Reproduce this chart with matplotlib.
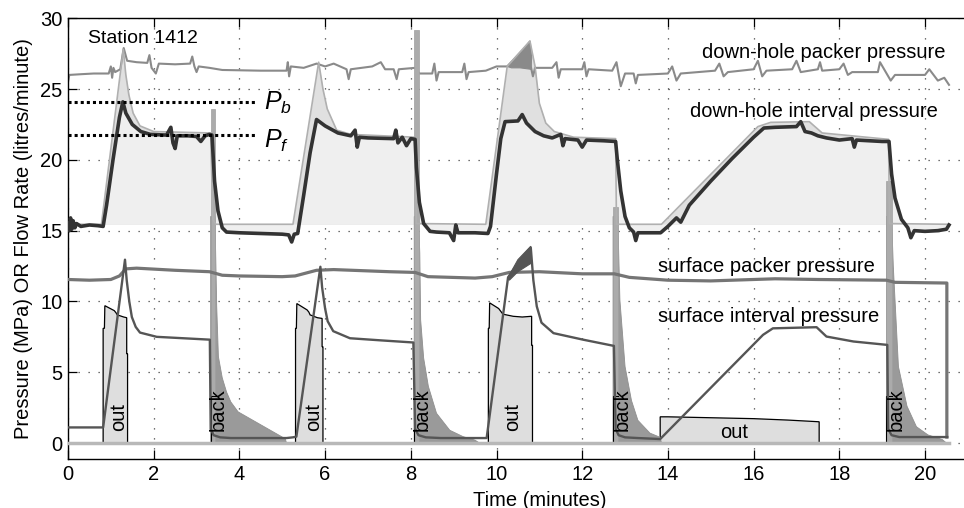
import numpy as np
import matplotlib
matplotlib.use("Agg")
import matplotlib.pyplot as plt
from matplotlib.patches import Polygon

plt.rcParams['font.family'] = ['Liberation Sans', 'DejaVu Sans']
plt.rcParams['mathtext.fontset'] = 'custom'
plt.rcParams['mathtext.it'] = 'Liberation Sans:italic'
plt.rcParams['mathtext.rm'] = 'Liberation Sans'

# ---------------- data ----------------
x_ticks = [0, 2, 4, 6, 8, 10, 12, 14, 16, 18, 20]
y_ticks = [0, 5, 10, 15, 20, 25, 30]

# static (pre-test) down-hole interval level, MPa
static_level = 15.45
# breakdown and frac (re-opening) pressures, MPa
p_breakdown = 24.1
p_frac = 21.75

# down-hole interval pressure (time min, MPa)
dh_interval = [
    (0.00, 15.5), (0.03, 15.0), (0.06, 15.9), (0.09, 15.1), (0.12, 15.7), (0.16, 15.2),
    (0.20, 15.5), (0.30, 15.3), (0.50, 15.4), (0.70, 15.35), (0.82, 15.3), (0.90, 16.8),
    (1.05, 20.0), (1.20, 23.0), (1.28, 24.1), (1.35, 23.3), (1.50, 22.5), (1.70, 22.0),
    (1.92, 21.8), (2.30, 21.75), (2.40, 22.3), (2.45, 21.2), (2.50, 20.8), (2.55, 21.7),
    (2.80, 21.7), (3.00, 21.65), (3.10, 21.3), (3.20, 21.7), (3.30, 21.8), (3.36, 21.75),
    (3.42, 18.5), (3.50, 16.4), (3.60, 15.2), (3.70, 14.9), (4.00, 14.85), (4.50, 14.8),
    (5.00, 14.75), (5.15, 14.7), (5.22, 14.2), (5.28, 14.75), (5.36, 14.8), (5.50, 17.5),
    (5.65, 20.5), (5.80, 22.85), (6.00, 22.4), (6.30, 21.9), (6.60, 21.7), (6.70, 22.1),
    (6.75, 20.9), (6.80, 21.6), (7.00, 21.55), (7.60, 21.5), (7.65, 22.1), (7.70, 21.2),
    (7.80, 21.6), (7.90, 21.0), (8.00, 21.5), (8.10, 21.45), (8.13, 19.5), (8.20, 17.0),
    (8.30, 15.5), (8.45, 14.95), (8.60, 14.9), (8.90, 14.85), (9.00, 14.3), (9.05, 15.4),
    (9.10, 14.85), (9.50, 14.85), (9.80, 14.8), (9.86, 15.3), (10.00, 19.0), (10.10, 21.5),
    (10.20, 22.7), (10.50, 22.75), (10.60, 23.2), (10.70, 22.6), (10.90, 22.0), (11.10, 21.7),
    (11.30, 21.55), (11.50, 21.8), (11.55, 21.0), (11.60, 21.5), (11.90, 21.4), (12.00, 20.9),
    (12.10, 21.4), (12.50, 21.35), (12.78, 21.3), (12.82, 20.0), (12.90, 17.8), (13.00, 16.0),
    (13.10, 15.2), (13.20, 14.9), (13.25, 14.3), (13.30, 14.85), (13.50, 14.85), (13.83, 14.85),
    (14.00, 15.3), (14.20, 15.9), (14.30, 15.6), (14.50, 16.8), (15.00, 18.5), (15.50, 20.1),
    (16.00, 21.6), (16.24, 22.25), (16.50, 22.3), (17.00, 22.35), (17.10, 22.7), (17.20, 22.0),
    (17.35, 21.9), (17.50, 21.7), (17.70, 21.55), (18.00, 21.4), (18.30, 21.5), (18.35, 20.9),
    (18.40, 21.4), (19.00, 21.3), (19.16, 21.3), (19.22, 19.0), (19.30, 17.3), (19.45, 15.8),
    (19.60, 15.2), (19.67, 14.5), (19.75, 15.0), (20.00, 14.95), (20.30, 15.0), (20.50, 15.1),
    (20.56, 15.4),
]

# second down-hole interval trace (light grey)
dh_interval_b = [
    (0.00, 15.45), (0.78, 15.45), (1.29, 27.8), (1.35, 26.0), (1.42, 24.6), (1.52, 23.3),
    (1.68, 22.4), (2.00, 22.0), (3.33, 21.9), (3.38, 15.8), (3.45, 15.45), (5.25, 15.45),
    (5.85, 26.9), (5.95, 25.0), (6.05, 23.6), (6.27, 22.1), (6.60, 21.8), (8.10, 21.6),
    (8.13, 15.5), (9.75, 15.45), (10.25, 26.6), (10.78, 28.4), (10.90, 26.6), (11.00, 24.0),
    (11.15, 22.6), (11.35, 22.0), (11.80, 21.6), (12.78, 21.5), (12.80, 15.45), (13.85, 15.45),
    (16.10, 22.35), (16.40, 22.65), (17.30, 22.7), (17.60, 21.9), (19.15, 21.45), (19.17, 15.5),
    (20.56, 15.45),
]

# down-hole packer pressure
dh_packer = [
    (0.00, 25.5), (0.03, 26.0), (0.30, 26.05), (0.60, 26.1), (0.95, 26.1), (1.00, 26.6),
    (1.03, 25.8), (1.06, 26.5), (1.10, 26.2), (1.22, 26.4), (1.30, 27.9), (1.38, 27.0),
    (1.60, 26.9), (1.85, 26.85), (1.90, 27.4), (1.95, 26.5), (2.05, 26.1), (2.12, 26.8),
    (2.50, 26.75), (2.85, 26.8), (2.90, 27.3), (2.95, 26.6), (3.00, 26.2), (3.05, 26.6),
    (3.30, 26.5), (3.60, 26.35), (4.50, 26.3), (5.10, 26.3), (5.13, 26.9), (5.16, 25.9),
    (5.20, 26.6), (5.50, 26.5), (5.80, 26.8), (6.00, 26.6), (6.20, 26.8), (6.35, 26.6),
    (6.50, 26.4), (6.55, 25.7), (6.60, 26.4), (7.10, 26.6), (7.30, 26.9), (7.40, 26.4),
    (7.60, 26.4), (7.67, 25.7), (7.72, 26.4), (8.10, 26.5), (8.20, 26.1), (8.50, 26.1),
    (8.55, 26.8), (8.60, 25.6), (8.65, 26.2), (9.20, 26.2), (9.25, 26.8), (9.30, 25.7),
    (9.35, 26.2), (9.75, 26.3), (10.00, 26.6), (10.25, 26.6), (10.78, 28.3), (10.80, 26.6),
    (10.85, 25.9), (10.90, 26.5), (11.30, 26.5), (11.40, 26.9), (11.45, 25.8), (11.50, 26.4),
    (12.00, 26.4), (12.05, 26.9), (12.10, 25.9), (12.15, 26.4), (12.70, 26.3), (12.80, 26.9),
    (12.90, 25.2), (13.00, 26.1), (13.20, 26.1), (13.25, 25.4), (13.30, 26.0), (14.00, 26.1),
    (14.10, 26.6), (14.20, 25.6), (14.30, 26.1), (15.10, 26.3), (15.20, 26.8), (15.30, 25.9),
    (15.40, 26.2), (16.00, 26.4), (16.10, 27.0), (16.20, 25.9), (16.30, 26.3), (16.90, 26.4),
    (17.00, 27.0), (17.10, 26.2), (17.50, 26.4), (17.55, 26.9), (17.60, 26.3), (18.00, 26.4),
    (18.10, 26.8), (18.20, 26.0), (18.30, 26.2), (18.90, 26.2), (18.95, 26.9), (19.20, 25.6),
    (19.30, 26.0), (20.00, 26.0), (20.10, 26.4), (20.30, 25.6), (20.45, 25.8), (20.56, 25.3),
]
# noisy packer excursion during the third injection
dh_packer_burst = [(10.25, 26.6), (10.50, 27.3), (10.78, 28.4), (10.82, 27.2),
                   (10.80, 26.4), (10.55, 26.5), (10.35, 26.5)]

# surface packer pressure
surf_packer = [
    (0.00, 11.55), (0.50, 11.5), (1.00, 11.55), (1.20, 11.8), (1.35, 12.3), (1.60, 12.35),
    (2.50, 12.2), (3.30, 12.1), (3.60, 11.85), (4.00, 11.8), (5.00, 11.75), (5.30, 11.8),
    (5.80, 12.2), (6.20, 12.25), (7.50, 12.1), (8.10, 12.05), (8.40, 11.75), (9.50, 11.65),
    (9.90, 11.75), (10.30, 12.05), (11.00, 12.1), (12.00, 11.95), (12.75, 11.95), (13.10, 11.7),
    (14.00, 11.5), (15.00, 11.45), (16.50, 11.6), (17.50, 11.55), (19.10, 11.5), (19.30, 11.35),
    (20.51, 11.3), (20.51, 0.42),
]

# surface interval pressure
surf_interval = [
    (0.00, 1.1), (0.82, 1.1), (1.33, 12.95), (1.37, 11.5), (1.43, 10.0), (1.49, 8.9),
    (1.58, 8.2), (1.68, 7.8), (2.07, 7.5), (3.31, 7.3), (3.33, 1.0), (3.40, 0.55),
    (3.55, 0.4), (3.80, 0.35), (5.10, 0.35), (5.25, 0.4), (5.33, 0.45), (5.89, 12.45),
    (5.93, 11.0), (6.00, 9.5), (6.06, 8.6), (6.19, 7.9), (6.58, 7.4), (7.30, 7.25),
    (8.06, 7.1), (8.10, 1.0), (8.18, 0.55), (8.35, 0.4), (8.70, 0.35), (9.77, 0.35),
    (10.27, 11.7), (10.50, 12.7), (10.80, 13.8), (10.86, 11.5), (10.94, 9.65), (11.05, 8.5),
    (11.33, 7.76), (12.02, 7.3), (12.74, 6.86), (12.78, 1.0), (12.85, 0.55), (13.00, 0.4),
    (13.30, 0.35), (13.82, 0.28), (16.22, 7.64), (16.45, 8.1), (17.47, 8.18), (17.70, 7.52),
    (18.33, 7.17), (19.12, 6.93), (19.14, 1.0), (19.22, 0.55), (19.40, 0.42), (20.52, 0.42),
]
# noisy surface interval band during the third injection
surf_interval_burst = [(10.27, 11.7), (10.50, 12.95), (10.80, 13.9), (10.81, 12.7),
                       (10.50, 12.1), (10.30, 11.5)]

# flow rate out of the tool (litres/minute)
flow_out = [
    [(0.82, 0.0), (0.82, 8.1), (0.85, 8.1), (0.86, 9.7), (1.08, 9.35), (1.12, 9.2),
     (1.15, 9.05), (1.30, 8.9), (1.37, 8.85), (1.37, 6.3), (1.39, 6.3), (1.39, 0.0)],
    [(5.31, 0.0), (5.31, 8.1), (5.33, 8.1), (5.34, 9.85), (5.58, 9.4), (5.62, 9.25),
     (5.65, 9.05), (5.82, 8.85), (5.93, 8.8), (5.93, 6.8), (5.95, 6.8), (5.95, 0.0)],
    [(9.81, 0.0), (9.81, 8.1), (9.83, 8.1), (9.84, 9.9), (10.05, 9.5), (10.10, 9.3),
     (10.15, 9.1), (10.39, 8.95), (10.60, 8.9), (10.82, 8.95), (10.82, 6.9), (10.84, 6.9),
     (10.84, 0.0)],
    [(13.82, 0.0), (13.82, 1.85), (14.00, 1.85), (16.00, 1.72), (16.80, 1.62), (17.53, 1.5),
     (17.53, 0.0)],
]
out_label_pos = [(1.17, 1.86, 90), (5.73, 1.86, 90), (10.37, 1.86, 90), (15.55, 0.73, 0)]

# flow back into the tool: initial surge column and decay
back_start = [3.33, 8.08, 12.72, 19.10]
back_width = [0.10, 0.10, 0.11, 0.12]
back_peak = [23.6, 29.2, 16.7, 18.5]
back_decay = [
    [(3.43, 16.0), (3.47, 9.7), (3.51, 6.1), (3.60, 4.6), (3.70, 3.6), (3.80, 2.9),
     (3.97, 2.2), (5.07, 0.3), (5.10, 0.0)],
    [(8.18, 16.0), (8.21, 13.4), (8.23, 8.7), (8.30, 6.0), (8.41, 4.0), (8.60, 2.1),
     (8.91, 0.9), (9.22, 0.45), (9.50, 0.2), (9.60, 0.0)],
    [(12.83, 16.0), (12.88, 10.1), (13.00, 5.4), (13.15, 3.0), (13.30, 1.6), (13.58, 0.7),
     (13.82, 0.4), (13.85, 0.0)],
    [(19.22, 16.0), (19.26, 12.5), (19.38, 5.4), (19.58, 2.6), (19.80, 1.15), (20.07, 0.57),
     (20.40, 0.25), (20.50, 0.0)],
]
back_label_x = [3.51, 8.26, 12.94, 19.32]
back_label_y = 2.34
flow_end = 20.56

# ---------------- figure ----------------
W, H = 964, 508
fig = plt.figure(figsize=(W / 100, H / 100), dpi=100)
ax = fig.add_axes([68 / W, 49 / H, 942.7 / W, 440.7 / H])
ax.set_xlim(0, 22)
ax.set_ylim(-1.13, 30)

def xy(pairs):
    a = np.array(pairs, dtype=float)
    return a[:, 0], a[:, 1]

t_dh, v_dh = xy(dh_interval)
t_dhb, v_dhb = xy(dh_interval_b)
t_pk, v_pk = xy(dh_packer)
t_sp, v_sp = xy(surf_packer)
t_si, v_si = xy(surf_interval)

# grid
ax.set_xticks(x_ticks)
ax.set_yticks(y_ticks)
ax.grid(True, color='#444444', linestyle=(0, (1, 7)), linewidth=0.9)
ax.set_axisbelow(True)

# shaded pressure areas relative to the static level
ax.fill_between(t_dhb, static_level, v_dhb, color='#e0e0e0', linewidth=0, zorder=1)
ax.fill_between(t_dh, static_level, v_dh, color='#efefef', linewidth=0, zorder=1.1)

# flow-out blocks
for poly in flow_out:
    ax.add_patch(Polygon(poly, closed=True, facecolor='#dedede', edgecolor='black',
                         linewidth=0.9, zorder=2))
for (lx, ly, rot) in out_label_pos:
    ax.text(lx, ly, 'out', rotation=rot, ha='center', va='center', fontsize=14.5, zorder=6)

# flow-back decay and surge columns
for x0, dec in zip(back_start, back_decay):
    pts = [(x0, 0.0), (x0, dec[0][1])] + dec
    ax.add_patch(Polygon(pts, closed=True, facecolor='#9a9a9a', edgecolor='#8f8f8f',
                         linewidth=0.6, zorder=2.2))
ax.bar(back_start, back_peak, width=back_width, align='edge', color='#ababab',
       edgecolor='#a0a0a0', linewidth=0.5, zorder=2.4)
for x0 in back_start:
    ax.plot([x0, x0, x0 + 0.12], [0.0, 3.35, 3.35], color='black', linewidth=0.8, zorder=2.5)
for bx in back_label_x:
    ax.text(bx, back_label_y, 'back', rotation=90, ha='center', va='center', fontsize=14.5,
            zorder=6)

# zero-flow line
ax.plot([0, flow_end], [0, 0], color='#b8b8b8', linewidth=2.5, zorder=2.6)

# pressure traces
ax.plot(t_dhb, v_dhb, color='#b0b0b0', linewidth=1.2, zorder=3)
ax.plot(t_pk, v_pk, color='#8a8a8a', linewidth=1.5, zorder=2.3)
ax.add_patch(Polygon(dh_packer_burst, closed=True, facecolor='#8a8a8a', edgecolor='#8a8a8a',
                     linewidth=0.8, zorder=2.3))
ax.plot(t_sp, v_sp, color='#757575', linewidth=2.3, zorder=3.2)
ax.plot(t_si, v_si, color='#555555', linewidth=1.7, zorder=3.3)
ax.add_patch(Polygon(surf_interval_burst, closed=True, facecolor='#555555', edgecolor='#555555',
                     linewidth=0.8, zorder=3.3))
ax.plot(t_dh, v_dh, color='#333333', linewidth=2.6, zorder=3.5)

# breakdown / frac pressure markers
ax.plot([0, 4.4], [p_breakdown, p_breakdown], color='black', linewidth=2.2,
        linestyle=(0, (1, 1)), zorder=4)
ax.plot([0, 4.4], [p_frac, p_frac], color='black', linewidth=2.2,
        linestyle=(0, (1, 1)), zorder=4)
ax.text(4.57, p_breakdown - 0.1, r'$P_b$', fontsize=18, ha='left', va='center', zorder=6)
ax.text(4.57, p_frac - 0.4, r'$P_f$', fontsize=18, ha='left', va='center', zorder=6)

# annotations
ax.text(0.47, 28.6, 'Station 1412', fontsize=14, ha='left', va='center', zorder=6)
ax.text(17.64, 27.6, 'down-hole packer pressure', fontsize=14.5, ha='center', va='center', zorder=6)
ax.text(17.4, 23.45, 'down-hole interval pressure', fontsize=14.5, ha='center', va='center', zorder=6)
ax.text(16.3, 12.48, 'surface packer pressure', fontsize=14.5, ha='center', va='center', zorder=6)
ax.text(16.35, 8.94, 'surface interval pressure', fontsize=14.5, ha='center', va='center', zorder=6)

# axes styling
ax.tick_params(direction='in', length=6.5, width=0.9, top=True, right=True,
               labelsize=14.5, pad=4)
for s in ax.spines.values():
    s.set_linewidth(1.0)
ax.set_xlabel('Time (minutes)', fontsize=14.5, labelpad=5)
ax.set_ylabel('Pressure (MPa) OR Flow Rate (litres/minute)', fontsize=14.5, labelpad=5)

fig.savefig('out.png', dpi=100)
